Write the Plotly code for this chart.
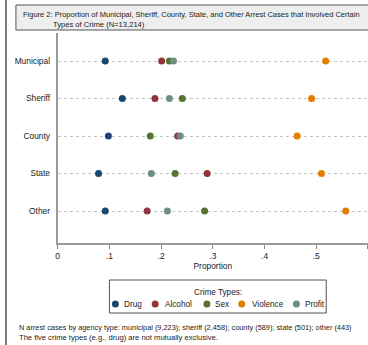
import plotly.graph_objects as go

# Agency types (top to bottom) and the share of arrest cases involving each crime type
agencies = ["Municipal", "Sheriff", "County", "State", "Other"]
crime_types = ["Drug", "Alcohol", "Sex", "Violence", "Profit"]
drug = [0.092, 0.125, 0.098, 0.079, 0.092]
alcohol = [0.201, 0.188, 0.232, 0.289, 0.173]
sex = [0.216, 0.241, 0.179, 0.227, 0.284]
violence = [0.518, 0.491, 0.463, 0.510, 0.557]
profit = [0.224, 0.216, 0.237, 0.181, 0.212]
series = [drug, alcohol, sex, violence, profit]
colors = ["#1a476f", "#90353b", "#55752f", "#e37e00", "#6e8e84"]

tick_vals = [0, 0.1, 0.2, 0.3, 0.4, 0.5, 0.6]
tick_text = ["0", ".1", ".2", ".3", ".4", ".5", ".6"]

title_line1 = "Figure 2: Proportion of Municipal, Sheriff, County, State, and Other Arrest Cases that Involved Certain"
title_line2 = "Types of Crime (N=13,214)"
note_line1 = ("N arrest cases by agency type: municipal (9,223); sheriff (2,458); "
              "county (589); state (501); other (443)")
note_line2 = "The five crime types (e.g., drug) are not mutually exclusive."

W, H = 368, 345
FONT = "Liberation Sans, Arial, Helvetica, sans-serif"
INK = "#222222"


def px(x):
    return x / W


def py(y):
    return 1 - y / H


def label(text, x, y, size, anchor="left"):
    return dict(text=text, x=px(x), y=py(y), xref="paper", yref="paper",
                xanchor=anchor, yanchor="middle", showarrow=False,
                font=dict(family=FONT, size=size, color=INK))


fig = go.Figure()
for name, vals, col in zip(crime_types, series, colors):
    fig.add_trace(go.Scatter(
        x=vals, y=agencies, mode="markers", name=name,
        marker=dict(color=col, size=7, line=dict(width=0)),
        showlegend=False,
    ))

shapes = [
    # outer frame edge
    dict(type="line", xref="paper", yref="paper", x0=px(4), x1=px(4), y0=0, y1=1,
         line=dict(color="#505050", width=1.5)),
    # title box
    dict(type="rect", xref="paper", yref="paper", x0=px(14), x1=px(380), y0=py(30), y1=py(5),
         fillcolor="#eeeeee", line=dict(color="#555555", width=1), layer="below"),
    # legend box
    dict(type="rect", xref="paper", yref="paper", x0=px(108), x1=px(326), y0=py(313), y1=py(280),
         fillcolor="white", line=dict(color="#555555", width=1)),
]

annotations = [
    label(title_line1, 19, 15, 7.5),
    label(title_line2, 49, 24.5, 7.6),
    label("Crime Types:", 217, 292, 8.2, anchor="center"),
    label(note_line1, 15, 327, 7.35),
    label(note_line2, 15, 337, 7.6),
]

# legend entries: marker + label
legend_marker_x = [114, 154, 206, 241, 296]
legend_text_x = [121, 162, 212, 249, 303]
for name, col, mx, tx in zip(crime_types, colors, legend_marker_x, legend_text_x):
    shapes.append(dict(type="circle", xref="paper", yref="paper",
                       xsizemode="pixel", ysizemode="pixel",
                       xanchor=px(mx), yanchor=py(304),
                       x0=-3.5, x1=3.5, y0=-3.5, y1=3.5,
                       fillcolor=col, line=dict(width=0)))
    annotations.append(label(name, tx, 304, 8.2))

fig.update_layout(
    width=W, height=H,
    margin=dict(l=0, r=0, t=0, b=0),
    paper_bgcolor="white", plot_bgcolor="white",
    font=dict(family=FONT, size=8.2, color=INK),
    shapes=shapes, annotations=annotations,
    xaxis=dict(
        domain=[px(56), 1],
        range=[0, 0.6],
        tickvals=tick_vals, ticktext=tick_text,
        ticks="outside", ticklen=4, tickwidth=1, tickcolor="#888888",
        showline=True, linecolor="#9a9a9a", linewidth=2,
        showgrid=False, zeroline=False,
        tickfont=dict(family=FONT, size=8.5, color=INK),
        title=dict(text="Proportion", standoff=1,
                   font=dict(family=FONT, size=8.4, color=INK)),
    ),
    yaxis=dict(
        domain=[py(243), py(33)],
        type="category",
        categoryorder="array", categoryarray=agencies,
        range=[4.853, -0.747],
        showline=True, linecolor="#9a9a9a", linewidth=2,
        showgrid=True, gridcolor="#c4c4c4", gridwidth=1, griddash="dot",
        zeroline=False, ticks="", ticklabelstandoff=4,
        tickfont=dict(family=FONT, size=8.4, color=INK),
    ),
)

fig.write_html("out.html")
